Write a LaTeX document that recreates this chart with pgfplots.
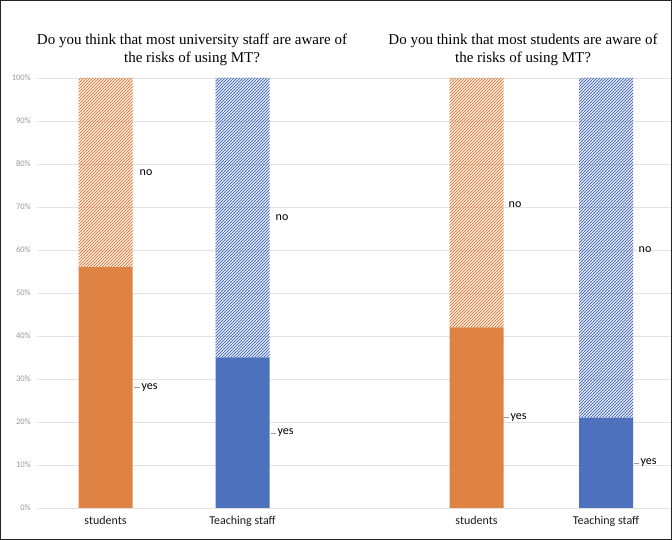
\documentclass[border=0pt]{standalone}
\usepackage{pgfplots}
\pgfplotsset{compat=1.18}
\usepackage{fontspec}
\setmainfont{Liberation Serif}
\newfontfamily\calfont{Carlito}
\usetikzlibrary{patterns}
\definecolor{orng}{HTML}{DF8344}
\definecolor{blu}{HTML}{4E71BE}
\definecolor{grd}{HTML}{E3E3E3}
\pgfdeclarepatternformonly{hatch}{\pgfqpoint{-1pt}{-1pt}}{\pgfqpoint{4pt}{4pt}}{\pgfqpoint{3pt}{3pt}}{%
  \pgfsetlinewidth{0.75pt}%
  \pgfpathmoveto{\pgfqpoint{-0.2pt}{-0.2pt}}%
  \pgfpathlineto{\pgfqpoint{3.2pt}{3.2pt}}%
  \pgfusepath{stroke}}
\begin{document}
\begin{tikzpicture}
\useasboundingbox (0,0) rectangle (672pt,540pt);
\begin{axis}[at={(37pt,32pt)}, anchor=south west, scale only axis,
  width=635pt, height=430pt,
  xmin=37, xmax=672, ymin=0, ymax=100,
  ybar stacked, bar width=54,
  axis line style={draw=none},
  ymajorgrids, grid style={grd, line width=0.9pt},
  major tick length=0,
  ytick={0,10,...,100},
  yticklabel={\pgfmathprintnumber{\tick}\%},
  /pgf/number format/assume math mode=true,
  yticklabel style={font=\calfont\fontsize{8.5}{9}\selectfont, text=black!40, inner sep=0pt, xshift=-6pt},
  xtick={105.5,242.5,476.5,606},
  xticklabels={students, Teaching staff, students, Teaching staff},
  xticklabel style={font=\calfont\fontsize{12}{14}\selectfont, text=black!90, inner sep=0pt, yshift=-8pt},
  clip=false]
\addplot[fill=orng, draw=none] coordinates {(105.5,56) (242.5,0) (476.5,42) (606,0)};
\addplot[fill=blu, draw=none] coordinates {(105.5,0) (242.5,35) (476.5,0) (606,21)};
\addplot[pattern=hatch, pattern color=orng, draw=none] coordinates {(105.5,44) (242.5,0) (476.5,58) (606,0)};
\addplot[pattern=hatch, pattern color=blu, draw=none] coordinates {(105.5,0) (242.5,65) (476.5,0) (606,79)};
% yes labels with leaders
\draw[black!40] (axis cs:134,28) -- (axis cs:140,28) node[right, inner sep=1.5pt, text=black, font=\calfont\fontsize{12}{14}\selectfont] {yes};
\draw[black!40] (axis cs:271,17.5) -- (axis cs:276,17.5) node[right, inner sep=1.5pt, text=black, font=\calfont\fontsize{12}{14}\selectfont] {yes};
\draw[black!40] (axis cs:504,21) -- (axis cs:509,21) node[right, inner sep=1.5pt, text=black, font=\calfont\fontsize{12}{14}\selectfont] {yes};
\draw[black!40] (axis cs:634,10.5) -- (axis cs:639,10.5) node[right, inner sep=1.5pt, text=black, font=\calfont\fontsize{12}{14}\selectfont] {yes};
% no labels
\node[right, inner sep=1.5pt, font=\calfont\fontsize{12}{14}\selectfont] at (axis cs:138,78) {no};
\node[right, inner sep=1.5pt, font=\calfont\fontsize{12}{14}\selectfont] at (axis cs:274,67.5) {no};
\node[right, inner sep=1.5pt, font=\calfont\fontsize{12}{14}\selectfont] at (axis cs:507,70.5) {no};
\node[right, inner sep=1.5pt, font=\calfont\fontsize{12}{14}\selectfont] at (axis cs:637,60) {no};
\end{axis}
\node[align=center, font=\fontsize{15}{18.5}\selectfont] at (192pt,490pt) {Do you think that most university staff are aware of\\the risks of using MT?};
\node[align=center, font=\fontsize{15}{18.5}\selectfont] at (523pt,490pt) {Do you think that most students are aware of\\the risks of using MT?};
\draw[line width=1.2pt, black!85] (0.6pt,0.6pt) rectangle (671.4pt,539.4pt);
\end{tikzpicture}
\end{document}
